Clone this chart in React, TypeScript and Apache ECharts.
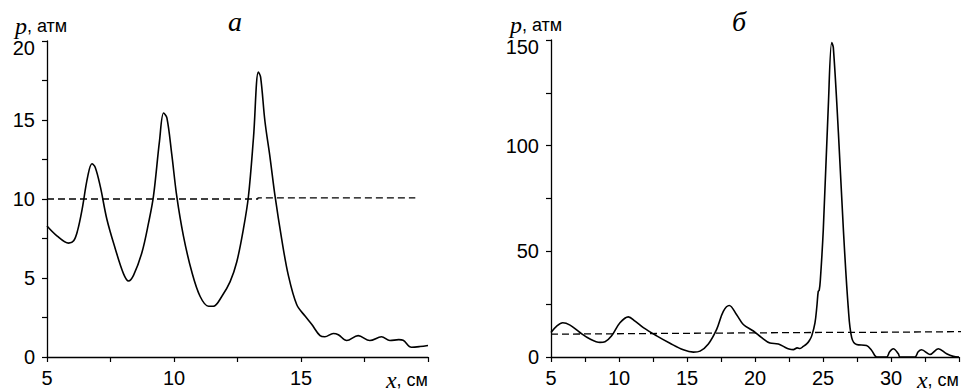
import React, { useEffect, useRef } from "react";
import * as echarts from "echarts";

// Panel а: pressure p (атм) vs x (см)
const xA = [5, 5.39, 5.85, 6.05, 6.2, 6.38, 6.6, 6.77, 6.9, 7.1, 7.36, 7.69, 8.01, 8.21, 8.41, 8.74, 9.0, 9.19, 9.43, 9.59, 9.72, 9.91, 10.11, 10.37, 10.7, 11.03, 11.36, 11.55, 11.88, 12.21, 12.47, 12.73, 12.93, 13.13, 13.32, 13.41, 13.58, 13.78, 13.98, 14.24, 14.5, 14.83, 15.16, 15.42, 15.75, 15.94, 16.27, 16.47, 16.8, 17.25, 17.71, 18.17, 18.5, 18.85, 19.02, 19.35, 19.68, 20];
const pA = [8.29, 7.67, 7.21, 7.36, 7.98, 9.33, 11.4, 12.23, 12.0, 10.78, 8.7, 6.84, 5.28, 4.81, 5.18, 6.63, 8.5, 10.16, 13.68, 15.44, 15.13, 12.85, 10.16, 7.67, 5.39, 3.83, 3.21, 3.21, 3.83, 4.77, 6.01, 8.08, 10.16, 13.89, 18.03, 17.72, 14.92, 12.64, 10.16, 7.46, 5.18, 3.32, 2.59, 2.07, 1.35, 1.28, 1.49, 1.41, 1.04, 1.35, 1.04, 1.28, 1.04, 1.1, 1.06, 0.62, 0.66, 0.73];
const dashXA = [5, 13.3, 13.3, 19.5];
const dashPA = [10.0, 10.0, 10.07, 10.07];

// Panel б
const xB = [5, 5.42, 5.86, 6.4, 7.13, 7.87, 8.6, 8.97, 9.46, 10.07, 10.69, 11.18, 11.79, 12.77, 13.75, 14.73, 15.47, 15.96, 16.57, 17.18, 17.67, 18.11, 18.65, 19.14, 19.88, 20.49, 21.1, 21.72, 22.2, 22.5, 22.82, 23.1, 23.31, 23.55, 23.8, 24.0, 24.17, 24.41, 24.55, 24.65, 24.72, 24.8, 25.02, 25.39, 25.64, 25.76, 26.13, 26.5, 26.86, 27.11, 27.47, 28.2, 28.58, 28.95, 29.68, 29.9, 30.17, 30.54, 30.66, 31.76, 32.0, 32.25, 32.86, 33.48, 34.09, 34.58, 35];
const pB = [11.6, 14.6, 16.2, 15.1, 11.6, 8.5, 6.9, 7.2, 10.0, 16.2, 19.0, 17.0, 13.9, 10.0, 6.5, 3.4, 2.3, 2.8, 6.2, 13.1, 21.6, 24.4, 20.0, 15.4, 12.3, 9.2, 6.6, 6.2, 4.6, 3.8, 3.5, 4.3, 4.0, 5.0, 6.2, 7.8, 10.0, 16.2, 24.0, 31.0, 31.5, 36.0, 60.1, 118.7, 148.8, 146.4, 106.4, 60.1, 23.1, 9.2, 5.9, 5.4, 3.1, 0, 0, 2.5, 3.9, 1.5, 0, 0, 2.5, 3.4, 1.2, 3.9, 1.5, 0.3, 0];
const dashXB = [5, 24.3, 29.2, 29.2, 35.2];
const dashPB = [10.8, 11.6, 11.7, 12.0, 12.0];

const titles = ["а", "б"];
const sans = "'Liberation Sans', Arial, sans-serif";
const serif = "'Liberation Serif', 'Times New Roman', serif";

const pairs = (xs: number[], ys: number[]) => xs.map((x, i) => [x, ys[i]]);

export default function App() {
  const ref = useRef<HTMLDivElement>(null);
  useEffect(() => {
    if (!ref.current) return;
    const chart = echarts.init(ref.current, null, { renderer: "svg" });
    const axisLine = { show: true, lineStyle: { color: "#000", width: 1.3 } };
    const axisTick = { show: true, length: 5, lineStyle: { color: "#000", width: 1.2 } };
    const xAxisCommon = (max: number) => ({
      type: "value",
      min: 5,
      max,
      interval: 2.5,
      axisLine,
      axisTick,
      splitLine: { show: false },
      axisLabel: {
        margin: 11,
        color: "#000",
        fontFamily: sans,
        fontSize: 20,
        showMaxLabel: true,
        formatter: (v: number) => (v % 5 === 0 && v !== max ? String(v) : ""),
      },
      name: "{x|x}{u|, см}",
      nameLocation: "end",
      nameGap: 0,
      nameTextStyle: {
        align: "right",
        verticalAlign: "top",
        padding: [11, 0, 0, 0],
        rich: {
          x: { fontFamily: serif, fontStyle: "italic", fontSize: 24, color: "#000" },
          u: { fontFamily: sans, fontSize: 18, color: "#000" },
        },
      },
    });
    const yAxisCommon = (max: number, step: number, padRight: number) => ({
      type: "value",
      min: 0,
      max,
      interval: step / 2,
      axisLine,
      axisTick,
      splitLine: { show: false },
      axisLabel: {
        margin: 12,
        color: "#000",
        fontFamily: sans,
        fontSize: 20,
        formatter: (v: number) =>
          v === max ? `{top|${v}}` : v % step === 0 ? String(v) : "",
        rich: {
          top: { fontFamily: sans, fontSize: 20, color: "#000", padding: [13, 0, 0, 0] },
        },
      },
      name: "{p|p}{u|, атм}",
      nameLocation: "end",
      nameGap: 3,
      nameTextStyle: {
        align: "center",
        verticalAlign: "bottom",
        padding: [0, padRight, 0, 0],
        rich: {
          p: { fontFamily: serif, fontStyle: "italic", fontSize: 24, color: "#000" },
          u: { fontFamily: sans, fontSize: 18, color: "#000" },
        },
      },
    });
    const curve = (xi: number, data: number[][]) => ({
      type: "line",
      xAxisIndex: xi,
      yAxisIndex: xi,
      data,
      symbol: "none",
      smooth: 0.35,
      lineStyle: { color: "#000", width: 1.6 },
      clip: false,
    });
    const dashed = (xi: number, data: number[][]) => ({
      type: "line",
      xAxisIndex: xi,
      yAxisIndex: xi,
      data,
      symbol: "none",
      lineStyle: { color: "#000", width: 1.3, type: [7, 4] },
      clip: false,
    });
    chart.setOption({
      animation: false,
      backgroundColor: "#fff",
      grid: [
        { left: 47, top: 41, width: 381, height: 323 },
        { left: 551, top: 40, width: 408, height: 324 },
      ],
      xAxis: [{ gridIndex: 0, ...xAxisCommon(20) }, { gridIndex: 1, ...xAxisCommon(35) }],
      yAxis: [{ gridIndex: 0, ...yAxisCommon(20, 5, 12) }, { gridIndex: 1, ...yAxisCommon(150, 50, 30) }],
      graphic: [
        { type: "text", x: 235, y: 21, style: { text: titles[0], font: `italic 28px ${serif}`, fill: "#000", align: "center", verticalAlign: "middle" } },
        { type: "text", x: 739, y: 21, style: { text: titles[1], font: `italic 28px ${serif}`, fill: "#000", align: "center", verticalAlign: "middle" } },
      ],
      series: [
        dashed(0, pairs(dashXA, dashPA)),
        curve(0, pairs(xA, pA)),
        dashed(1, pairs(dashXB, dashPB)),
        curve(1, pairs(xB, pB)),
      ],
    });
    return () => chart.dispose();
  }, []);
  return <div ref={ref} style={{ position: "fixed", left: 0, top: 0, width: 962, height: 392 }} />;
}
